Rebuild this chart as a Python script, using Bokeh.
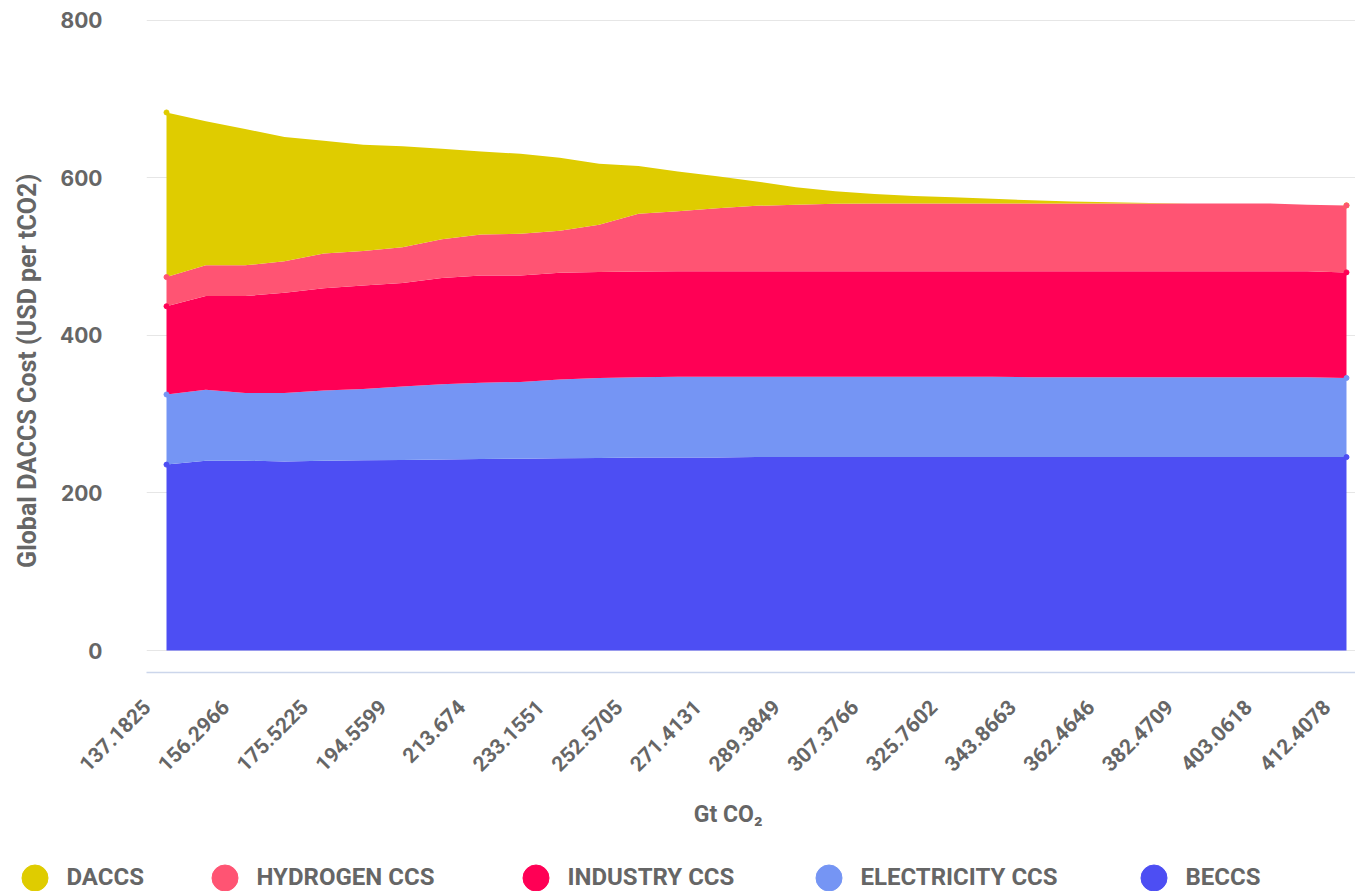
import math
import numpy as np
from bokeh.plotting import figure
from bokeh.layouts import column
from bokeh.models import ColumnDataSource, Range1d, FixedTicker, Legend, LegendItem
from bokeh.embed import file_html
from bokeh.resources import INLINE

# ---- data ----
tick_labels = ["137.1825", "156.2966", "175.5225", "194.5599", "213.674", "233.1551",
               "252.5705", "271.4131", "289.3849", "307.3766", "325.7602", "343.8663",
               "362.4646", "382.4709", "403.0618", "412.4078"]
x_index = list(range(31))

beccs = [236, 241, 241, 240, 241, 241.5, 242, 242.5, 243, 243.5, 244, 244.5, 245, 245, 245,
         245.5, 245.5, 245.5, 245.5, 245.5, 245.5, 245.5, 245.5, 245.5, 245.5, 245.5, 245.5,
         245.5, 245.5, 245.5, 245.5]
electricity = [89, 90, 86, 87, 89, 90.5, 93, 95.5, 97, 97.5, 100, 101.5, 102, 102.5, 102.5,
               102, 102, 102, 102, 102, 102, 102, 101.5, 101.5, 101.5, 101.5, 101.5, 101.5,
               101.5, 101.5, 100.5]
industry = [112, 119, 123, 127, 130, 131.5, 131.5, 135, 136, 135, 135.5, 134.5, 134, 134, 134,
            134, 134, 134, 134, 134, 134, 134, 134.5, 134.5, 134.5, 134.5, 134.5, 134.5,
            134.5, 134.5, 134]
hydrogen = [37, 39, 39, 40, 44, 43.5, 45.5, 49, 52, 53, 53.5, 60, 73.5, 76, 80, 83, 84.5,
            85.5, 86, 86, 86, 86, 86, 86, 86, 86, 86, 86, 86, 84.5, 85]
daccs = [209, 183, 173, 158, 143, 135, 128, 115, 105.5, 101.5, 92.5, 77.5, 60.5, 50.5, 40.5,
         31, 22, 16, 12, 9.5, 8, 6, 4, 2.5, 1.5, 0.5, 0, 0, 0, 0, 0]

names = ["BECCS", "ELECTRICITY CCS", "INDUSTRY CCS", "HYDROGEN CCS", "DACCS"]
values = [beccs, electricity, industry, hydrogen, daccs]
colors = ["#4d4ef3", "#7595f4", "#ff0055", "#ff5473", "#dfcc00"]
legend_order = ["DACCS", "HYDROGEN CCS", "INDUSTRY CCS", "ELECTRICITY CCS", "BECCS"]

x_title = "Gt CO₂"
y_title = "Global DACCS Cost (USD per tCO2)"

data = {"x": x_index}
for n, v in zip(names, values):
    data[n] = v
source = ColumnDataSource(data)

TXT = "#666666"
NB = "\u00a0"

# ---------------- main chart ----------------
p = figure(width=1355, height=840, output_backend="svg", toolbar_location=None,
           x_range=Range1d(-0.5085, 30.229), y_range=Range1d(-27.9, 801),
           min_border_left=146, min_border_right=0, min_border_top=19,
           min_border_bottom=168, background_fill_color="white",
           border_fill_color="white")
p.outline_line_color = None

p.varea_stack(stackers=names, x="x", color=colors, source=source)

# end-point dots (first and last point of each stacked boundary)
cum = np.cumsum(np.array(values, dtype=float), axis=0)
ends = [0, len(x_index) - 1]
for k in reversed(range(len(names))):
    p.scatter(x=[x_index[i] for i in ends], y=[cum[k][i] for i in ends],
              size=5, color=colors[k], line_color=colors[k])

p.xgrid.grid_line_color = None
p.ygrid.grid_line_color = "#e6e6e6"
p.ygrid.grid_line_width = 1

p.xaxis.ticker = FixedTicker(ticks=[i * 2 - 0.5 for i in range(len(tick_labels))])
p.xaxis.major_label_overrides = {i * 2 - 0.5: lbl for i, lbl in enumerate(tick_labels)}
p.xaxis.major_label_orientation = math.pi / 4
p.xaxis.major_tick_line_color = None
p.xaxis.minor_tick_line_color = None
p.xaxis.axis_line_color = "#ccd6eb"
p.xaxis.axis_line_width = 1.5
p.xaxis.major_label_standoff = 25
p.xaxis.major_label_text_font = "Roboto"
p.xaxis.major_label_text_font_style = "bold"
p.xaxis.major_label_text_font_size = "21px"
p.xaxis.major_label_text_color = TXT
p.xaxis.axis_label = x_title + NB * 8
p.xaxis.axis_label_text_font = "Roboto"
p.xaxis.axis_label_text_font_style = "bold"
p.xaxis.axis_label_text_font_size = "23px"
p.xaxis.axis_label_text_color = TXT
p.xaxis.axis_label_standoff = 20

p.yaxis.ticker = FixedTicker(ticks=[0, 200, 400, 600, 800])
p.yaxis.axis_line_color = None
p.yaxis.major_tick_line_color = None
p.yaxis.minor_tick_line_color = None
p.yaxis.major_label_standoff = 38
p.yaxis.major_label_text_font = "Inter"
p.yaxis.major_label_text_font_style = "bold"
p.yaxis.major_label_text_font_size = "21px"
p.yaxis.major_label_text_color = TXT
p.yaxis.axis_label = y_title + NB * 8
p.yaxis.axis_label_text_font = "Roboto"
p.yaxis.axis_label_text_font_style = "bold"
p.yaxis.axis_label_text_font_size = "25px"
p.yaxis.axis_label_text_color = TXT
p.yaxis.axis_label_standoff = 15

# ---------------- legend strip ----------------
leg = figure(width=1355, height=51, output_backend="svg", toolbar_location=None,
             x_range=Range1d(0, 1), y_range=Range1d(0, 1),
             x_axis_type=None, y_axis_type=None,
             min_border_left=0, min_border_right=0, min_border_top=0, min_border_bottom=0,
             background_fill_color="white", border_fill_color="white")
leg.outline_line_color = None
leg.frame_align = False   # keep the strip's frame spanning its full width

legend_x = [1.5, 191.5, 502.5, 795.5, 1120.5]
for name, lx in zip(legend_order, legend_x):
    c = colors[names.index(name)]
    r = leg.scatter(x=[np.nan], y=[np.nan], size=5, color=c, line_color=c)
    lg = Legend(items=[LegendItem(label=name, renderers=[r])],
                location=(lx, -18.5), orientation="horizontal",
                glyph_width=65, glyph_height=65, label_standoff=0,
                padding=0, margin=0, spacing=0,
                border_line_color=None, background_fill_alpha=0,
                label_text_font="Roboto", label_text_font_style="bold",
                label_text_font_size="24px", label_text_color=TXT)
    leg.add_layout(lg)

layout = column(p, leg, spacing=0)
open("out.html", "w").write(file_html(layout, INLINE))
